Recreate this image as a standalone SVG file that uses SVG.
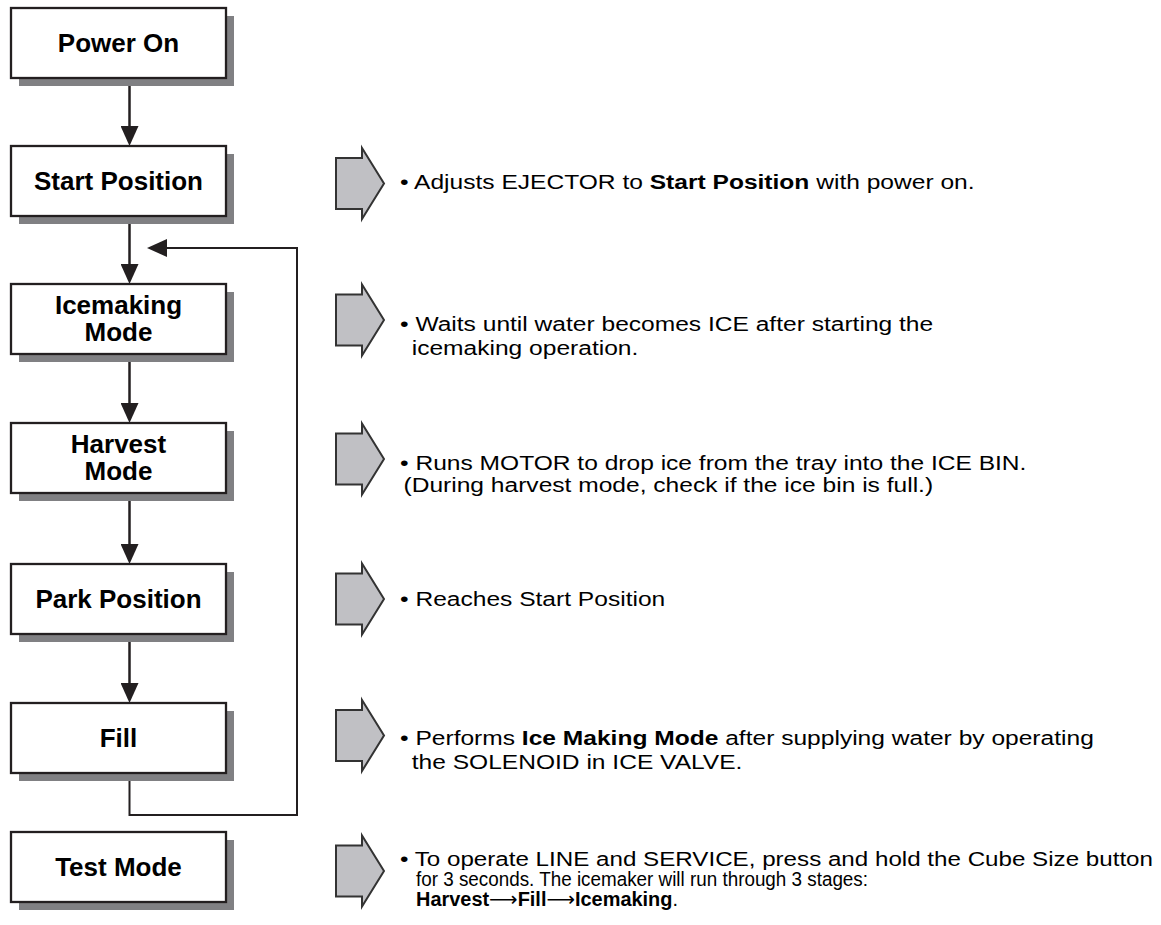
<svg xmlns="http://www.w3.org/2000/svg" width="1161" height="925" viewBox="0 0 1161 925">
<style>
.box{fill:#fff;stroke:#231f20;stroke-width:2.3}
.shadow{fill:#808083}
.btxt{font-family:"Liberation Sans",Arial,sans-serif;font-weight:bold;font-size:26px;fill:#000;text-anchor:middle}
.desc{font-family:"Liberation Sans",Arial,sans-serif;font-size:21px;fill:#000}
.tdesc{font-family:"Liberation Sans",Arial,"DejaVu Sans",sans-serif;font-size:20px;fill:#000}
.b{font-weight:bold}
.conn{fill:none;stroke:#231f20;stroke-width:2.5}
.loop{fill:none;stroke:#231f20;stroke-width:2}
.blk{fill:#c0c0c4;stroke:#333;stroke-width:2;stroke-linejoin:miter}
</style>
<defs>
<marker id="ah" markerUnits="userSpaceOnUse" markerWidth="20" markerHeight="18" refX="16" refY="9" orient="auto">
<path d="M0,0 L20,9 L0,18 Z" fill="#231f20"/>
</marker>
<path id="blkArrow" class="blk" d="M0,-25.5 H26 V-35.5 L48,0 L26,35.5 V25.5 H0 Z"/>
</defs>

<g id="connectors">
<line class="conn" x1="129.5" y1="78" x2="129.5" y2="142" marker-end="url(#ah)"/>
<line class="conn" x1="129.5" y1="216" x2="129.5" y2="280" marker-end="url(#ah)"/>
<line class="conn" x1="129.5" y1="354" x2="129.5" y2="419" marker-end="url(#ah)"/>
<line class="conn" x1="129.5" y1="493" x2="129.5" y2="560" marker-end="url(#ah)"/>
<line class="conn" x1="129.5" y1="634" x2="129.5" y2="699" marker-end="url(#ah)"/>
<polyline class="loop" points="129.5,773 129.5,815 297,815 297,248 151,248" marker-end="url(#ah)"/>
</g>

<g id="power-on">
<rect class="shadow" x="19" y="16" width="215" height="70"/>
<rect class="box" x="11" y="8" width="215" height="70"/>
<text class="btxt" x="118.5" y="52">Power On</text>
</g>
<g id="start-position">
<rect class="shadow" x="19" y="154" width="215" height="70"/>
<rect class="box" x="11" y="146" width="215" height="70"/>
<text class="btxt" x="118.5" y="190">Start Position</text>
</g>
<g id="icemaking-mode">
<rect class="shadow" x="19" y="292" width="215" height="70"/>
<rect class="box" x="11" y="284" width="215" height="70"/>
<text class="btxt" x="118.5" y="314">Icemaking</text>
<text class="btxt" x="118.5" y="341">Mode</text>
</g>
<g id="harvest-mode">
<rect class="shadow" x="19" y="431" width="215" height="70"/>
<rect class="box" x="11" y="423" width="215" height="70"/>
<text class="btxt" x="118.5" y="453">Harvest</text>
<text class="btxt" x="118.5" y="480">Mode</text>
</g>
<g id="park-position">
<rect class="shadow" x="19" y="572" width="215" height="70"/>
<rect class="box" x="11" y="564" width="215" height="70"/>
<text class="btxt" x="118.5" y="608">Park Position</text>
</g>
<g id="fill">
<rect class="shadow" x="19" y="711" width="215" height="70"/>
<rect class="box" x="11" y="703" width="215" height="70"/>
<text class="btxt" x="118.5" y="747">Fill</text>
</g>
<g id="test-mode">
<rect class="shadow" x="19" y="840" width="215" height="70"/>
<rect class="box" x="11" y="832" width="215" height="70"/>
<text class="btxt" x="118.5" y="876">Test Mode</text>
</g>

<g id="desc-start">
<use href="#blkArrow" x="336" y="183.5"/>
<text class="desc" transform="matrix(1.17,0,0,1,-68,0)" x="400" y="189">• Adjusts EJECTOR to <tspan class="b">Start Position</tspan> with power on.</text>
</g>
<g id="desc-icemaking">
<use href="#blkArrow" x="336" y="320"/>
<g transform="matrix(1.17,0,0,1,-68,0)">
<text class="desc" x="400" y="331">• Waits until water becomes ICE after starting the</text>
<text class="desc" x="410" y="355">icemaking operation.</text>
</g>
</g>
<g id="desc-harvest">
<use href="#blkArrow" x="336" y="459"/>
<g transform="matrix(1.17,0,0,1,-68,0)">
<text class="desc" x="400" y="470">• Runs MOTOR to drop ice from the tray into the ICE BIN.</text>
<text class="desc" x="403" y="492">(During harvest mode, check if the ice bin is full.)</text>
</g>
</g>
<g id="desc-park">
<use href="#blkArrow" x="336" y="599"/>
<text class="desc" transform="matrix(1.17,0,0,1,-68,0)" x="400" y="606">• Reaches Start Position</text>
</g>
<g id="desc-fill">
<use href="#blkArrow" x="336" y="735.5"/>
<g transform="matrix(1.17,0,0,1,-68,0)">
<text class="desc" x="400" y="745">• Performs <tspan class="b">Ice Making Mode</tspan> after supplying water by operating</text>
<text class="desc" x="410" y="769">the SOLENOID in ICE VALVE.</text>
</g>
</g>
<g id="desc-test">
<use href="#blkArrow" x="336" y="871"/>
<text class="tdesc" x="400" y="866" textLength="753" lengthAdjust="spacingAndGlyphs">• To operate LINE and SERVICE, press and hold the Cube Size button</text>
<text class="tdesc" x="416" y="886" textLength="452" lengthAdjust="spacingAndGlyphs">for 3 seconds. The icemaker will run through 3 stages:</text>
<text class="tdesc" x="416" y="906" textLength="262" lengthAdjust="spacingAndGlyphs"><tspan class="b">Harvest</tspan>⟶<tspan class="b">Fill</tspan>⟶<tspan class="b">Icemaking</tspan>.</text>
</g>
</svg>
